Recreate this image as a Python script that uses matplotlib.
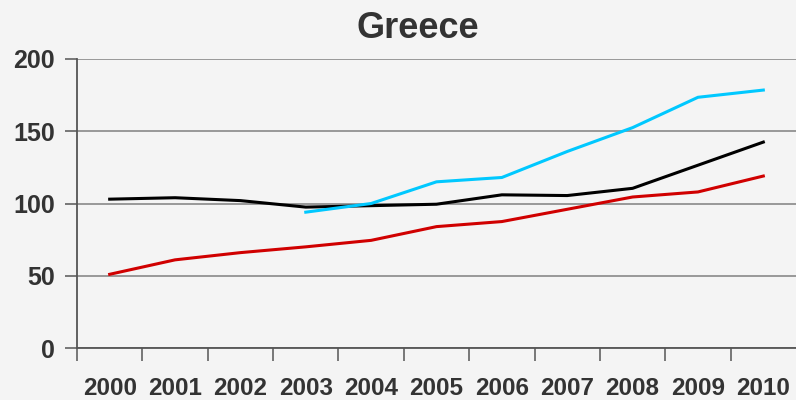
import matplotlib.pyplot as plt

years = ['2000', '2001', '2002', '2003', '2004', '2005',
         '2006', '2007', '2008', '2009', '2010']
black_vals = [103, 104, 102, 97.5, 98.5, 99.5, 106, 105.5, 110.5, 126.5, 142.5]
cyan_vals = [None, None, None, 94, 100, 115, 118, 136, 152.5, 173.5, 178.5]
red_vals = [51, 61, 66, 70, 74.5, 84, 87.5, 96, 104.5, 108, 119]

bg = '#f4f4f4'
text_color = '#333333'
font = 'Liberation Sans'

fig = plt.figure(figsize=(7.96, 4.0), dpi=100, facecolor=bg)
ax = fig.add_axes([77 / 796, 1 - 348 / 400, 1 - 77 / 796, (348 - 59) / 400])
ax.set_facecolor(bg)

x = list(range(len(years)))
ax.plot(x, black_vals, color='black', lw=2.2, zorder=3)
cx = [i for i, v in zip(x, cyan_vals) if v is not None]
cy = [v for v in cyan_vals if v is not None]
ax.plot(cx, cy, color='#00c8ff', lw=2.2, zorder=3)
ax.plot(x, red_vals, color='#d00000', lw=2.2, zorder=3)

ax.set_xlim(-0.5, 10.5)
ax.set_ylim(0, 200)

# y axis with gridlines
ax.set_yticks([0, 50, 100, 150, 200])
ax.yaxis.grid(True, color='#7f7f7f', lw=1.1)
ax.set_axisbelow(True)
ax.tick_params(axis='y', length=9, width=1.1, color='#555555', pad=7,
               labelsize=18, labelcolor=text_color)
for lbl in ax.get_yticklabels():
    lbl.set_fontweight('bold')
    lbl.set_fontfamily(font)

# category boundaries as major ticks, labels on minor ticks
ax.set_xticks([i - 0.5 for i in range(len(years))])
ax.set_xticklabels([])
ax.tick_params(axis='x', which='major', length=9, width=1.1, color='#555555')
ax.set_xticks(x, minor=True)
ax.set_xticklabels(years, minor=True, fontsize=17.5, fontweight='bold',
                   color=text_color, fontfamily=font)
ax.tick_params(axis='x', which='minor', length=0, pad=21)

for side in ['top', 'right']:
    ax.spines[side].set_visible(False)
for side in ['left', 'bottom']:
    ax.spines[side].set_color('#555555')
    ax.spines[side].set_linewidth(1.3)

fig.text(418 / 796, 1 - 29 / 400, 'Greece', ha='center', va='center',
         fontsize=26, fontweight='bold', color=text_color, fontfamily=font)

fig.savefig('out.png', dpi=100, facecolor=bg)
